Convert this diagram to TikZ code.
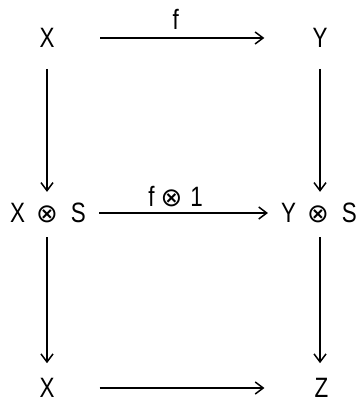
\documentclass[tikz,border=0pt]{standalone}
\usepackage{fontspec}
\setmainfont{Liberation Sans}[FakeStretch=0.8]
\newfontfamily\symfont{DejaVu Sans}
\newcommand{\tens}{{\symfont\fontsize{26}{28}\selectfont ⊗}}
\usetikzlibrary{arrows.meta}
\begin{document}
\begin{tikzpicture}[x=1pt, y=-1pt]

    \tikzset{
        obj/.style={
            inner sep=0pt,
            font=\fontsize{28}{30}\selectfont
        },
        mapto/.style={
            line width=1.6pt,
            -{Straight Barb[length=8pt,width=12pt,line width=1.5pt]}
        },
        lbl/.style={
            inner sep=0pt,
            font=\fontsize{28}{30}\selectfont
        }
    }

    \useasboundingbox (0,0) rectangle (362,403);

    % objekty
    \node[obj] (x1) at (47, 38) {X};
    \node[obj] (y1) at (320, 38) {Y};
    \node[obj] (xs) at (48,213) {X\hspace{11pt}\tens\hspace{13pt}S};
    \node[obj] (ys) at (319, 213) {Y\hspace{11pt}\tens\hspace{13pt}S};
    \node[obj] (x2) at (47,388) {X};
    \node[obj] (z)  at (321.5,388) {Z};

    % vodorovné šipky
    \draw[mapto, shorten <=45.5pt, shorten >=48pt] (x1) -- (y1)
        node[lbl, pos=0.47, above=8pt] {f};
    \draw[mapto, shorten <=13pt, shorten >=13pt] (xs) -- (ys)
        node[lbl, pos=0.46, above=5pt] {f\hspace{6pt}\tens\hspace{8pt}1};
    \draw[mapto, shorten <=45pt, shorten >=50pt] (x2.east) -- (z.west);

    % svislé šipky
    \draw[mapto, shorten <=21pt, shorten >=11pt] (x1.south) -- (x1.south |- xs.north);
    \draw[mapto, shorten <=21pt, shorten >=11pt] (y1.south) -- (y1.south |- ys.north);
    \draw[mapto, shorten <=14pt, shorten >=15pt] (x1.south |- xs.south) -- (x2.north);
    \draw[mapto, shorten <=14pt, shorten >=15pt] (y1.south |- ys.south) -- (y1.south |- z.north);

\end{tikzpicture}
\end{document}
